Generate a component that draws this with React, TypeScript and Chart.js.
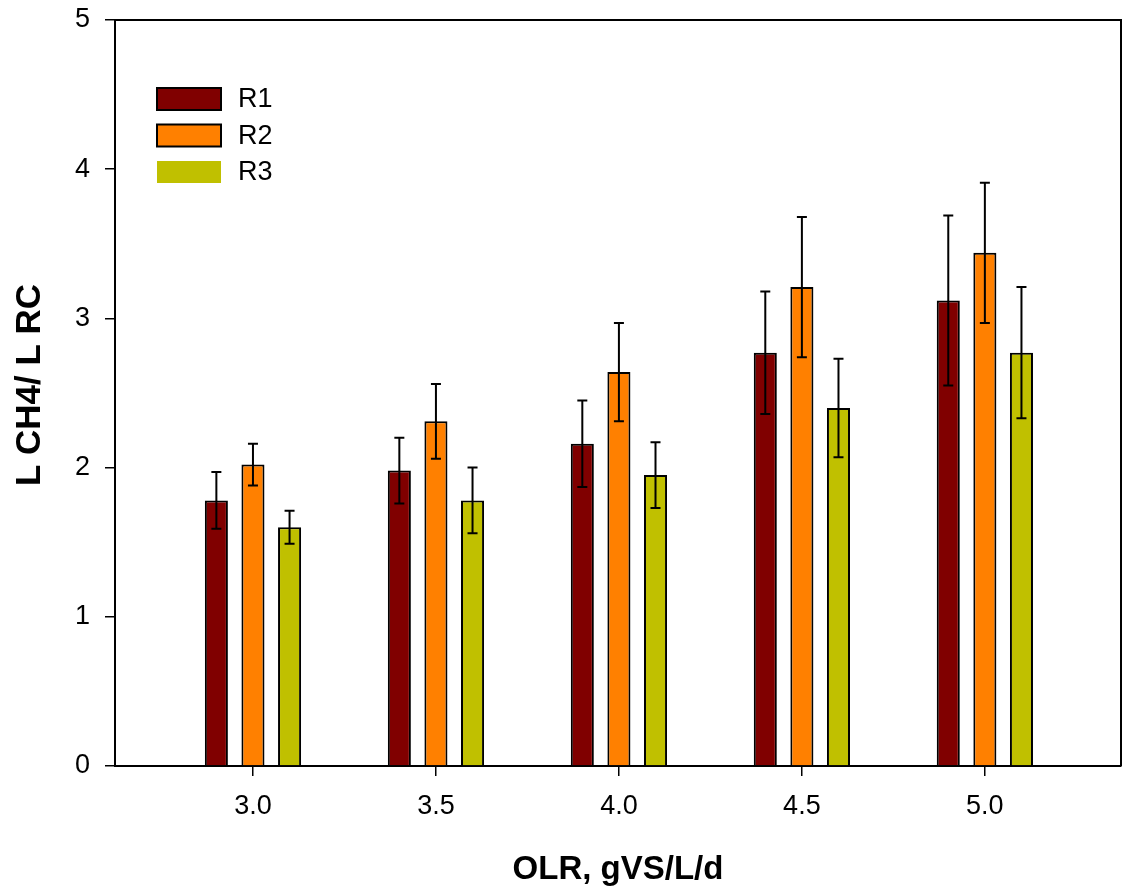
import React, { useEffect, useRef } from "react";
import { Chart, registerables } from "chart.js";

Chart.register(...registerables);

const categories = [3.0, 3.5, 4.0, 4.5, 5.0];
const xTickValues = [3.0, 3.5, 4.0, 4.5, 5.0];
const yTickValues = [0, 1, 2, 3, 4, 5];
const seriesNames = ["R1", "R2", "R3"];
const r1Values = [1.78, 1.98, 2.16, 2.77, 3.12];
const r2Values = [2.02, 2.31, 2.64, 3.21, 3.44];
const r3Values = [1.60, 1.78, 1.95, 2.40, 2.77];
const r1Errors = [0.19, 0.22, 0.29, 0.41, 0.57];
const r2Errors = [0.14, 0.25, 0.33, 0.47, 0.47];
const r3Errors = [0.11, 0.22, 0.22, 0.33, 0.44];
const xTitle = "OLR, gVS/L/d";
const yTitle = "L CH4/ L RC";

const colors = ["#800000", "#FF8000", "#C0C000"];
const FONT = "'Liberation Sans', Arial, sans-serif";

export default function App() {
  const ref = useRef<HTMLCanvasElement | null>(null);

  useEffect(() => {
    const canvas = ref.current;
    if (!canvas) return;
    const values = [r1Values, r2Values, r3Values];
    const errors = [r1Errors, r2Errors, r3Errors];

    const errorBars = {
      id: "errorBars",
      afterDatasetsDraw(chart: any) {
        const ctx = chart.ctx;
        const yScale = chart.scales.y;
        ctx.save();
        ctx.strokeStyle = "#000";
        ctx.lineWidth = 2;
        chart.data.datasets.forEach((ds: any, i: number) => {
          const meta = chart.getDatasetMeta(i);
          meta.data.forEach((el: any, j: number) => {
            const v = values[i][j];
            const e = errors[i][j];
            const x = el.x;
            const yt = yScale.getPixelForValue(v + e);
            const yb = yScale.getPixelForValue(v - e);
            const cap = 5;
            ctx.beginPath();
            ctx.moveTo(x, yt);
            ctx.lineTo(x, yb);
            ctx.moveTo(x - cap, yt);
            ctx.lineTo(x + cap, yt);
            ctx.moveTo(x - cap, yb);
            ctx.lineTo(x + cap, yb);
            ctx.stroke();
          });
        });
        ctx.restore();
      },
    };

    const frame = {
      id: "frame",
      afterDraw(chart: any) {
        const { ctx, chartArea } = chart;
        ctx.save();
        ctx.strokeStyle = "#000";
        ctx.lineWidth = 2;
        ctx.beginPath();
        ctx.moveTo(chartArea.left, chartArea.top);
        ctx.lineTo(chartArea.right, chartArea.top);
        ctx.lineTo(chartArea.right, chartArea.bottom);
        ctx.stroke();
        // y-axis title
        ctx.translate(30.5, (chartArea.top + chartArea.bottom) / 2 - 8);
        ctx.rotate(-Math.PI / 2);
        ctx.font = `bold 35px ${FONT}`;
        ctx.fillStyle = "#000";
        ctx.textAlign = "center";
        ctx.textBaseline = "middle";
        ctx.fillText(yTitle, 0, 0);
        ctx.restore();
      },
    };

    const legendPlugin = {
      id: "customLegend",
      afterDraw(chart: any) {
        const { ctx, chartArea } = chart;
        ctx.save();
        const bx = chartArea.left + 42;
        const by = chartArea.top + 68;
        const bw = 64;
        const bh = 22;
        const step = 36.5;
        ctx.font = `27px ${FONT}`;
        ctx.textBaseline = "middle";
        ctx.textAlign = "left";
        seriesNames.forEach((name, i) => {
          const y = by + i * step;
          ctx.fillStyle = colors[i];
          ctx.fillRect(bx, y, bw, bh);
          if (i < 2) {
            ctx.strokeStyle = "#000";
            ctx.lineWidth = 2;
            ctx.strokeRect(bx, y, bw, bh);
          }
          ctx.fillStyle = "#000";
          ctx.fillText(name, bx + bw + 17, y + bh / 2 + 1);
        });
        ctx.restore();
      },
    };

    const chart = new Chart(canvas, {
      type: "bar",
      data: {
        datasets: seriesNames.map((name, i) => ({
          label: name,
          data: categories.map((c, j) => ({ x: c, y: values[i][j] })),
          backgroundColor: colors[i],
          borderColor: "#000",
          borderWidth: 2,
          categoryPercentage: 0.6,
          barPercentage: 0.63,
        })),
      },
      options: {
        responsive: false,
        animation: false,
        layout: { padding: { left: 0, top: 20, right: 5, bottom: 0 } },
        plugins: {
          legend: { display: false },
          tooltip: { enabled: false },
        },
        scales: {
          x: {
            type: "linear",
            offset: false,
            min: 2.623,
            max: 5.372,
            afterBuildTicks: (scale: any) => {
              scale.ticks = xTickValues.map((v) => ({ value: v }));
            },
            afterFit: (scale: any) => {
              scale.height = 126;
              scale.paddingLeft = 0;
              scale.paddingRight = 0;
            },
            ticks: {
              color: "#000",
              font: { family: FONT, size: 27 },
              padding: 14,
              maxRotation: 0,
              callback: (v: any) => Number(v).toFixed(1),
            },
            grid: {
              offset: false,
              drawOnChartArea: false,
              drawTicks: true,
              tickLength: 10,
              color: "#000",
              lineWidth: 1.5,
            },
            border: { display: true, color: "#000", width: 2 },
            title: {
              display: true,
              text: xTitle,
              color: "#000",
              font: { family: FONT, size: 33, weight: "bold" },
              padding: { top: 0, bottom: 2 },
            },
          },
          y: {
            type: "linear",
            min: 0,
            max: 5,
            afterBuildTicks: (scale: any) => {
              scale.ticks = yTickValues.map((v) => ({ value: v }));
            },
            afterFit: (scale: any) => {
              scale.width = 115;
              scale.paddingTop = 0;
              scale.paddingBottom = 0;
            },
            ticks: {
              color: "#000",
              font: { family: FONT, size: 27 },
              padding: 15,
            },
            grid: {
              drawOnChartArea: false,
              drawTicks: true,
              tickLength: 10,
              color: "#000",
              lineWidth: 1.5,
            },
            border: { display: true, color: "#000", width: 2 },
            title: { display: false },
          },
        },
      },
      plugins: [errorBars, frame, legendPlugin],
    } as any);

    return () => chart.destroy();
  }, []);

  return (
    <div style={{ position: "absolute", left: 0, top: 0, width: 1126, height: 892, background: "#fff" }}>
      <canvas ref={ref} width={1126} height={892} style={{ display: "block" }} />
    </div>
  );
}
